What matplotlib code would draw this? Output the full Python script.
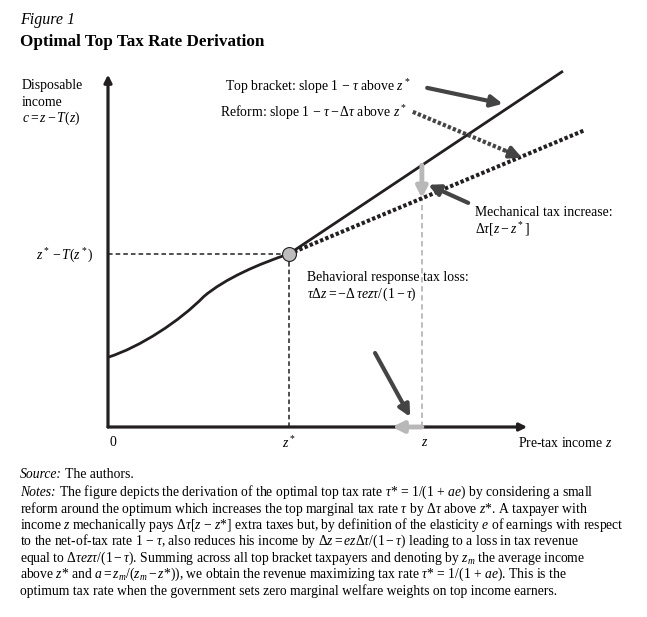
import numpy as np
import matplotlib
matplotlib.use('Agg')
import matplotlib.pyplot as plt
from matplotlib.path import Path
from matplotlib.patches import PathPatch

plt.rcParams['font.family'] = ['Liberation Serif', 'DejaVu Serif']
plt.rcParams['mathtext.fontset'] = 'custom'
plt.rcParams['mathtext.rm'] = 'Liberation Serif'
plt.rcParams['mathtext.it'] = 'Liberation Serif:italic'
plt.rcParams['mathtext.bf'] = 'Liberation Serif:bold'

# ---- data (schematic units) ----
z_star = 3.40
z_val = 5.90
c_star = 3.25

# income curve below z*: bezier control points (two cubic pieces)
curve_z = [0.0, 0.60, 1.35, 1.80, 2.20, 2.85, 3.40]
curve_c = [1.31, 1.50, 1.99, 2.45, 2.79, 3.07, 3.25]

top_end = (8.53, 6.67)      # end of top bracket line
reform_end = (8.97, 5.58)   # end of reform line

x_axis_end = 7.88
y_axis_end = 6.62

# annotation arrows (tail, head)
arr_top = [(6.00, 6.37), (7.42, 6.07)]
arr_reform = [(5.73, 5.92), (7.78, 5.06)]
arr_mech = [(6.77, 4.21), (6.02, 4.55)]
arr_behav = [(5.02, 1.39), (5.68, 0.19)]
arr_shift = [(5.90, 0.0), (5.34, 0.0)]

W, H = 647, 617
fig = plt.figure(figsize=(W / 100, H / 100), dpi=100)
ax = fig.add_axes([108 / W, 1 - 427 / H, 532 / W, 362 / H])
ax.set_xlim(0, 10)
ax.set_ylim(0, 6.8)
ax.axis('off')

dark = '#231f20'
arrow_gray = '#444444'
light = '#b8b8b8'

def slope_line(end):
    return (end[1] - c_star) / (end[0] - z_star)

s_top = slope_line(top_end)
s_ref = slope_line(reform_end)
c_top_z = c_star + s_top * (z_val - z_star)
c_ref_z = c_star + s_ref * (z_val - z_star)

# axes with arrows
for tip in [(0, y_axis_end), (x_axis_end, 0)]:
    ax.annotate('', xy=tip, xytext=(0, 0),
                arrowprops=dict(arrowstyle='-|>', color=dark, lw=2.3, mutation_scale=11,
                                shrinkA=0, shrinkB=0), annotation_clip=False)

# dashed guides
ax.plot([0, z_star], [c_star, c_star], color=dark, lw=1.1, ls=(0, (3, 2)))
ax.plot([z_star, z_star], [0, c_star], color=dark, lw=1.1, ls=(0, (3, 2)))
ax.plot([z_val, z_val], [0, c_ref_z], color=light, lw=1.3, ls=(0, (3, 2)))

# income curve, top bracket and reform
codes = [Path.MOVETO] + [Path.CURVE4] * (len(curve_z) - 1)
curve = Path(np.column_stack([curve_z, curve_c]), codes)
ax.add_patch(PathPatch(curve, fill=False, ec=dark, lw=2.0, capstyle='round'))
ax.plot([z_star, top_end[0]], [c_star, top_end[1]], color=dark, lw=2.0)
ax.plot([z_star, reform_end[0]], [c_star, reform_end[1]], color=dark, lw=2.9,
        ls=(0, (0.85, 0.55)), dash_capstyle='butt')

# mechanical increase arrow (light gray)
ax.annotate('', xy=(z_val, c_ref_z), xytext=(z_val, c_top_z),
            arrowprops=dict(arrowstyle='-|>', color=light, lw=3.5, mutation_scale=16,
                            shrinkA=0, shrinkB=0))
# behavioral shift along x axis
ax.annotate('', xy=arr_shift[1], xytext=arr_shift[0],
            arrowprops=dict(arrowstyle='-|>', color=light, lw=3.5, mutation_scale=16,
                            shrinkA=0, shrinkB=0), annotation_clip=False)

# optimum point
ax.plot([z_star], [c_star], 'o', ms=10, mfc='#bdbdbd', mec=dark, mew=0.8, zorder=5)

# dark annotation arrows
for tail, head in [arr_top, arr_mech, arr_behav]:
    ax.annotate('', xy=head, xytext=tail,
                arrowprops=dict(arrowstyle='-|>', color=arrow_gray, lw=3.0,
                                mutation_scale=17, shrinkA=0, shrinkB=0))
# dotted one
t, h = np.array(arr_reform[0]), np.array(arr_reform[1])
d = (h - t) / np.hypot(*(h - t))
mid = h - d * 0.3
ax.plot([t[0], mid[0]], [t[1], mid[1]], color=arrow_gray, lw=3.0,
        ls=(0, (0.8, 0.5)), dash_capstyle='butt')
ax.annotate('', xy=tuple(h), xytext=tuple(mid),
            arrowprops=dict(arrowstyle='-|>', color=arrow_gray, lw=3.0,
                            mutation_scale=17, shrinkA=0, shrinkB=0))

# ---- texts ----
def ft(x, y, s, **kw):
    kw.setdefault('va', 'center')
    kw.setdefault('fontsize', 9.9)
    return fig.text(x / W, 1 - y / H, s, **kw)

ft(20, 20, 'Figure 1', fontsize=11.5, style='italic')
ft(20, 42, 'Optimal Top Tax Rate Derivation', fontsize=12.3, weight='bold')

ft(22, 85, 'Disposable')
ft(22, 102, 'income')
ft(22, 118, r'$c = z - T(z)$')

ft(225, 87, r'Top bracket: slope 1 $-\ \tau$ above $z^*$')
ft(220, 113, r'Reform: slope 1 $-\ \tau - \Delta\tau$ above $z^*$')
ft(36, 256, r'$z^* - T(z^*)$')
ft(307, 277, 'Behavioral response tax loss:')
ft(307, 294, r'$\tau\Delta z = -\Delta\,\tau ez\tau/\,(1-\tau)$')
ft(475, 212, 'Mechanical tax increase:')
ft(475, 229, r'$\Delta\tau[z - z^*]$')

ft(113, 443, '0', ha='center')
ft(289, 443, r'$z^*$', ha='center')
ft(425, 443, r'$z$', ha='center')
ft(518, 443, r'Pre-tax income $z$')

# source and notes
fs = 9.8
src = ft(20, 475, 'Source:', style='italic', fontsize=fs)
ax.annotate(' The authors.', xy=(1, 0.5), xycoords=src, va='center', fontsize=fs)

notes = [
    r'The figure depicts the derivation of the optimal top tax rate $\tau$* = 1/(1 + $ae$) by considering a small',
    r'reform around the optimum which increases the top marginal tax rate $\tau$ by $\Delta\tau$ above $z$*. A taxpayer with',
    r'income $z$ mechanically pays $\Delta\tau$[$z$ $-$ $z$*] extra taxes but, by definition of the elasticity $e$ of earnings with respect',
    r'to the net-of-tax rate 1 $-\ \tau$, also reduces his income by $\Delta z = ez\Delta\tau/(1-\tau)$ leading to a loss in tax revenue',
    r'equal to $\Delta\tau ez\tau/(1-\tau)$. Summing across all top bracket taxpayers and denoting by $z_m$ the average income',
    r'above $z$* and $a = z_m/(z_m - z$*)), we obtain the revenue maximizing tax rate $\tau$* = 1/(1 + $ae$). This is the',
    r'optimum tax rate when the government sets zero marginal welfare weights on top income earners.',
]
ys = [492, 508.5, 525, 541.5, 558, 574.5, 591]
lab = ft(20, ys[0], 'Notes:', style='italic', fontsize=fs)
ax.annotate(' ' + notes[0], xy=(1, 0.5), xycoords=lab, va='center', fontsize=fs)
for s, y in zip(notes[1:], ys[1:]):
    ft(20, y, s, fontsize=fs)

fig.savefig('out.png', dpi=100)
